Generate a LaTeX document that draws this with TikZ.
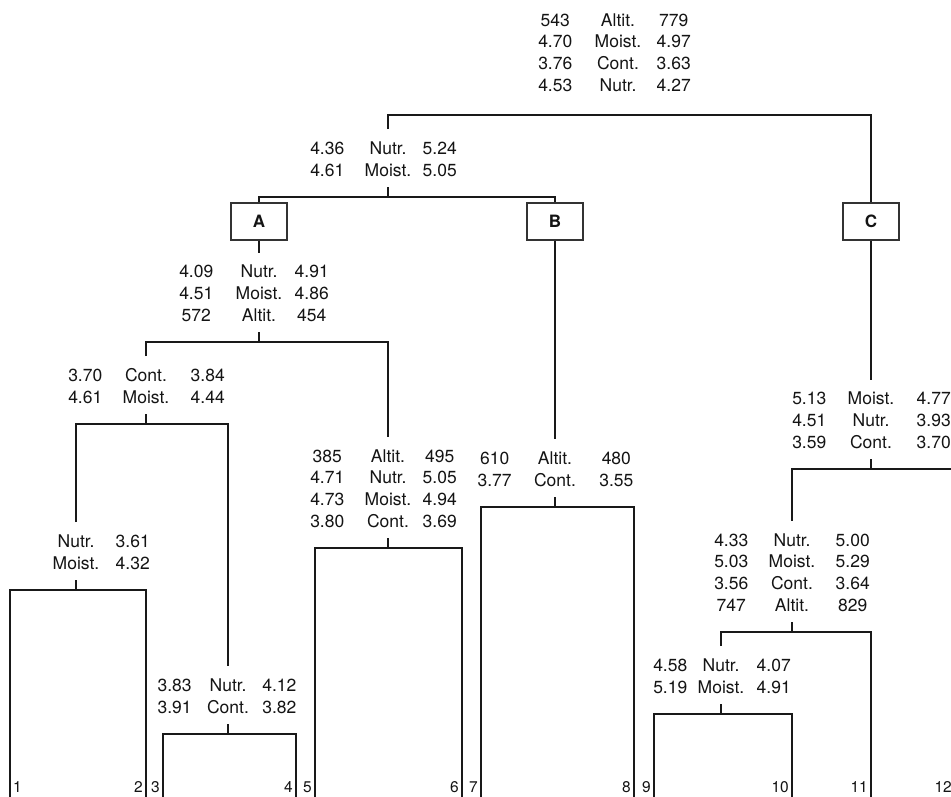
\documentclass[tikz,border=0pt]{standalone}
\usepackage{fontspec}
\setmainfont{TeX Gyre Heros}
\usepackage{xcolor}
\colorlet{colTree}{black!90}
\colorlet{colBox}{black!80}
\colorlet{colText}{black!92}
\usetikzlibrary{positioning, calc}
\newcommand\splitrows[1]{\begin{tabular}{@{}c@{}}#1\end{tabular}}

\begin{document}
\begin{tikzpicture}[x=1pt, y=-1pt,
		branch/.style={line width=2.5pt, draw=colTree},
		catbox/.style={draw=colBox, line width=1.2pt, minimum width=56pt, minimum height=37pt, inner sep=0pt, font=\fontsize{17}{20}\selectfont\bfseries, text=colText},
		splitcol/.style={inner sep=0pt, font=\fontsize{17.5}{21.7}\selectfont, text=colText},
		leaflab/.style={inner sep=0pt, font=\fontsize{15.5}{18}\selectfont, text=colText}]
	\path[use as bounding box, fill=white] (0,0) rectangle (951,797);
	\clip (0,0) rectangle (951,797);
	% leaves
	\foreach \n/\x in {1/10, 2/146, 3/163, 4/296, 5/315, 6/462, 7/481, 8/634, 9/654, 10/792, 11/871, 12/955}{
		\coordinate (leaf\n) at (\x,800);
	}
	\node[leaflab, anchor=base west] (lab1) at ($(leaf1)+(3,-8)$) {1};
	\foreach \n in {2,...,12}{
		\node[leaflab, anchor=base east] (lab\n) at ($(leaf\n)+(-3,-8)$) {\n};
	}
	% split points on the bars
	\coordinate (jroot) at (618,115);
	\coordinate (jAB) at (388,197);
	\coordinate (jA) at (259,342);
	\coordinate (j1234) at (146,424);
	\coordinate (j12) at (76,590);
	\coordinate (j34) at (228,734);
	\coordinate (j56) at (388,548);
	\coordinate (jB) at (555,507);
	\coordinate (jC) at (871,469);
	\coordinate (j91011) at (792,632);
	\coordinate (j910) at (721,714);
	% group boxes
	\node[catbox] (boxA) at (259,221.5) {A};
	\node[catbox] (boxB) at (555,221.5) {B};
	\node[catbox] (boxC) at (871,221.5) {C};
	% root
	\node[splitcol, anchor=south] (mroot) at ($(jroot)+(0,-17)$) {\splitrows{Altit.\\Moist.\\Cont.\\Nutr.}};
	\node[splitcol, left=22pt of mroot] (lroot) {\splitrows{543\\4.70\\3.76\\4.53}};
	\node[splitcol, right=15pt of mroot] (rroot) {\splitrows{779\\4.97\\3.63\\4.27}};
	% A versus B
	\node[splitcol, anchor=south] (mAB) at ($(jAB)+(0,-14)$) {\splitrows{Nutr.\\Moist.}};
	\node[splitcol, left=20pt of mAB] (lAB) {\splitrows{4.36\\4.61}};
	\node[splitcol, right=11pt of mAB] (rAB) {\splitrows{5.24\\5.05}};
	% A
	\node[splitcol, anchor=south] (mA) at ($(jA)+(0,-14)$) {\splitrows{Nutr.\\Moist.\\Altit.}};
	\node[splitcol, left=22pt of mA] (lA) {\splitrows{4.09\\4.51\\572}};
	\node[splitcol, right=12pt of mA] (rA) {\splitrows{4.91\\4.86\\454}};
	% 1-4
	\node[splitcol, anchor=south] (m1234) at ($(j1234)+(0,-14)$) {\splitrows{Cont.\\Moist.}};
	\node[splitcol, left=20pt of m1234] (l1234) {\splitrows{3.70\\4.61}};
	\node[splitcol, right=21pt of m1234] (r1234) {\splitrows{3.84\\4.44}};
	% 1-2
	\node[splitcol, anchor=south] (m12) at ($(j12)+(0,-14)$) {\splitrows{Nutr.\\Moist.}};
	\node[splitcol, right=16pt of m12] (r12) {\splitrows{3.61\\4.32}};
	% 3-4
	\node[splitcol, anchor=south] (m34) at ($(j34)+(0,-14)$) {\splitrows{Nutr.\\Cont.}};
	\node[splitcol, left=15pt of m34] (l34) {\splitrows{3.83\\3.91}};
	\node[splitcol, right=13pt of m34] (r34) {\splitrows{4.12\\3.82}};
	% 5-6
	\node[splitcol, anchor=south] (m56) at ($(j56)+(0,-14)$) {\splitrows{Altit.\\Nutr.\\Moist.\\Cont.}};
	\node[splitcol, left=20pt of m56] (l56) {\splitrows{385\\4.71\\4.73\\3.80}};
	\node[splitcol, right=11pt of m56] (r56) {\splitrows{495\\5.05\\4.94\\3.69}};
	% B
	\node[splitcol, anchor=south] (mB) at ($(jB)+(0,-14)$) {\splitrows{Altit.\\Cont.}};
	\node[splitcol, left=22pt of mB] (lB) {\splitrows{610\\3.77}};
	\node[splitcol, right=23pt of mB] (rB) {\splitrows{480\\3.55}};
	% C
	\node[splitcol, anchor=south] (mC) at ($(jC)+(0,-14)$) {\splitrows{Moist.\\Nutr.\\Cont.}};
	\node[splitcol, left=21pt of mC] (lC) {\splitrows{5.13\\4.51\\3.59}};
	\node[splitcol, right=22pt of mC] (rC) {\splitrows{4.77\\3.93\\3.70}};
	% 9-11
	\node[splitcol, anchor=south] (m91011) at ($(j91011)+(0,-14)$) {\splitrows{Nutr.\\Moist.\\Cont.\\Altit.}};
	\node[splitcol, left=20pt of m91011] (l91011) {\splitrows{4.33\\5.03\\3.56\\747}};
	\node[splitcol, right=20pt of m91011] (r91011) {\splitrows{5.00\\5.29\\3.64\\829}};
	% 9-10
	\node[splitcol, anchor=south] (m910) at ($(j910)+(0,-14)$) {\splitrows{Nutr.\\Moist.}};
	\node[splitcol, left=10pt of m910] (l910) {\splitrows{4.58\\5.19}};
	\node[splitcol, right=12pt of m910] (r910) {\splitrows{4.07\\4.91}};
	% tops of the branches
	\foreach \k in {AB, A, 1234, 12, 34, 56, B, C, 91011, 910}{
		\coordinate (t\k) at ($(m\k.north)+(0,-10)$);
	}
	% branches
	\draw[branch] (tAB) |- (jroot) -| (boxC.north);
	\draw[branch] (boxA.north) |- (jAB) -| (boxB.north);
	\draw[branch] (boxA.south) -- (tA);
	\draw[branch] (boxB.south) -- (tB);
	\draw[branch] (boxC.south) -- (tC);
	\draw[branch] (t1234) |- (jA) -| (t56);
	\draw[branch] (t12) |- (j1234) -| (t34);
	\draw[branch] (leaf1) |- (j12) -| (leaf2);
	\draw[branch] (leaf3) |- (j34) -| (leaf4);
	\draw[branch] (leaf5) |- (j56) -| (leaf6);
	\draw[branch] (leaf7) |- (jB) -| (leaf8);
	\draw[branch] (t91011) |- (jC) -| (leaf12);
	\draw[branch] (t910) |- (j91011) -| (leaf11);
	\draw[branch] (leaf9) |- (j910) -| (leaf10);
	\foreach \k in {AB, A, 1234, 12, 34, 56, B, C, 91011, 910}{
		\draw[branch] (j\k) -- ++(0,-10);
	}
\end{tikzpicture}
\end{document}
